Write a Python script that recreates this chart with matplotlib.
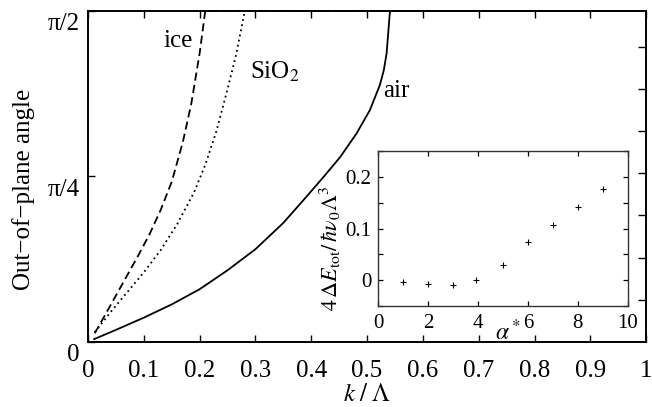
import numpy as np
import matplotlib
matplotlib.use("Agg")
import matplotlib.pyplot as plt
import matplotlib.transforms as mtransforms

# ---- data ----
k_air = [0.011, 0.05, 0.1, 0.15, 0.2, 0.25, 0.3, 0.35, 0.386, 0.422, 0.452,
         0.481, 0.505, 0.523, 0.53, 0.535, 0.541, 1.0]
th_air = [0.013, 0.057, 0.115, 0.178, 0.25, 0.34, 0.44, 0.565, 0.673, 0.783, 0.878,
          0.989, 1.10, 1.22, 1.29, 1.37, np.pi/2, np.pi/2]

k_ice = [0.012, 0.03, 0.05, 0.07, 0.09, 0.11, 0.13, 0.15, 0.17, 0.185, 0.2, 0.21, 1.0]
th_ice = [0.041, 0.125, 0.22, 0.315, 0.41, 0.51, 0.625, 0.76, 0.95, 1.13, 1.37,
          np.pi/2, np.pi/2]

k_sio2 = [0.012, 0.04, 0.07, 0.1, 0.13, 0.16, 0.19, 0.21, 0.23, 0.25, 0.265, 0.281, 1.0]
th_sio2 = [0.045, 0.14, 0.235, 0.33, 0.435, 0.56, 0.71, 0.84, 1.0, 1.2, 1.36,
           np.pi/2, np.pi/2]

alpha = [1, 2, 3, 3.93, 4.99, 6, 7, 8, 9]
dE = [-0.003, -0.008, -0.0096, 0.0006, 0.030, 0.073, 0.107, 0.142, 0.177]

xticks_main = [0, 0.1, 0.2, 0.3, 0.4, 0.5, 0.6, 0.7, 0.8, 0.9, 1.0]
xticklabels_main = ["0", "0.1", "0.2", "0.3", "0.4", "0.5", "0.6", "0.7", "0.8", "0.9", "1"]
yticks_main = [0, np.pi/4, np.pi/2]
yticklabels_main = ["0", "\u03c0/4", "\u03c0/2"]
yticks_right = [0.2, 0.4, 0.6, 0.8, 1.0, 1.2, 1.4]

inset_xticks = [0, 2, 4, 6, 8, 10]
inset_yticks = [0, 0.1, 0.2]
inset_yticklabels = ["0", "0.1", "0.2"]
inset_yminor = [-0.05, 0.05, 0.15, 0.25]

plt.rcParams['font.family'] = ['Liberation Serif', 'DejaVu Serif']
plt.rcParams['mathtext.fontset'] = 'stix'

fig = plt.figure(figsize=(6.52, 4.07), dpi=100)
ax = fig.add_axes([0.135, 0.160, 0.856, 0.813])

ax.plot(k_air, th_air, color='black', lw=1.3, ls='-', clip_on=False)
ax.plot(k_ice, th_ice, color='black', lw=1.3, ls=(0, (4.5, 2.4)), clip_on=False)
ax.plot(k_sio2, th_sio2, color='black', lw=1.3, ls=(0, (1, 1.9)), clip_on=False)

ax.set_xlim(0, 1)
ax.set_ylim(0, np.pi/2)
ax.set_xticks(xticks_main)
ax.set_xticklabels(xticklabels_main)
ax.set_yticks(yticks_main)
ax.set_yticklabels(yticklabels_main)
ax.tick_params(direction='in', length=5, width=1, labelsize=18, top=True, right=False)
ax.tick_params(axis='x', pad=13)
ax.tick_params(axis='y', pad=6)
for s in ax.spines.values():
    s.set_linewidth(1.4)

# y tick labels sit slightly below their ticks in the reference
offset = mtransforms.ScaledTranslation(0, -0.11, fig.dpi_scale_trans)
for t in ax.yaxis.get_major_ticks():
    t.label1.set_transform(t.label1.get_transform() + offset)

ax.set_xlabel(r"$k\;/\;\Lambda$", fontsize=18)
ax.xaxis.set_label_coords(0.5, -0.128)
ax.set_ylabel("Out\u2212of\u2212plane angle", fontsize=18)
ax.yaxis.set_label_coords(-0.095, 0.46)

ax.text(0.161, 1.43, "ice", fontsize=18, ha='center', va='center')
ax.text(0.335, 1.28, r"SiO$_2$", fontsize=18, ha='center', va='center')
ax.text(0.553, 1.19, "air", fontsize=18, ha='center', va='center')

# right-side ticks (no labels)
axr = ax.twinx()
axr.set_ylim(0, np.pi/2)
axr.set_yticks(yticks_right)
axr.tick_params(direction='in', length=5.5, width=1, labelright=False)
for s in axr.spines.values():
    s.set_visible(False)

# ---- inset ----
ai = fig.add_axes([0.580, 0.248, 0.383, 0.381])
ai.plot(alpha, dE, ls='none', marker='+', ms=4.5, mew=0.8, color='black')
ai.set_xlim(0, 10)
ai.set_ylim(-0.05, 0.25)
ai.set_xticks(inset_xticks)
ai.set_yticks(inset_yticks)
ai.set_yticklabels(inset_yticklabels)
ai.set_yticks(inset_yminor, minor=True)
ai.tick_params(which='both', direction='in', length=3.5, width=0.9, labelsize=15,
               top=True, right=True)
ai.tick_params(axis='x', pad=6)
ai.tick_params(axis='y', pad=5)
for s in ai.spines.values():
    s.set_linewidth(1.0)
    s.set_color('#333333')
ai.set_xlabel(r"$\alpha^*$", fontsize=17, va='top')
ai.xaxis.set_label_coords(0.52, -0.09)
ai.set_ylabel(r"$4\,\Delta E_{\rm tot}/\,\hbar\nu_0\Lambda^3$", fontsize=16)
ai.yaxis.set_label_coords(-0.14, 0.37)

fig.savefig("out.png", dpi=100)
